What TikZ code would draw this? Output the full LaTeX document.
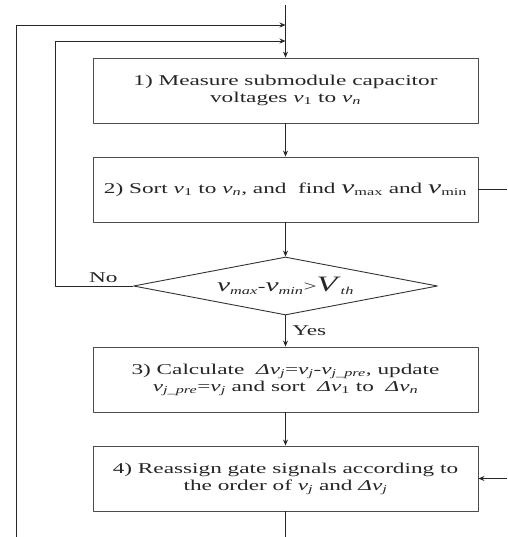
\documentclass[tikz,border=0pt]{standalone}
\usepackage{fontspec}
\setmainfont[FakeStretch=1.55]{Liberation Serif}
\usetikzlibrary{shapes.geometric,positioning,arrows.meta}
\newcommand{\vsub}[2]{\textit{#1}\textsubscript{#2}}
\newcommand{\bigv}[1]{{\fontsize{19}{19}\selectfont\textit{#1}}}

\begin{document}
\begin{tikzpicture}[x=1pt,y=-1pt,line width=0.9pt,line join=round,>={Stealth[length=6pt,width=5pt,inset=2pt]},
    font=\fontsize{15}{17}\selectfont,text=black!85,
    procbox/.style={draw=black!70,rectangle,minimum width=385pt,minimum height=65pt,align=center,inner sep=1pt},
    decbox/.style={draw=black!80,diamond,aspect=5.2,minimum width=304pt,minimum height=58pt,inner sep=0pt},
    flow/.style={->,draw=black!85}]
    \useasboundingbox (0,0) rectangle (507,537);
    % process boxes and test
    \node[procbox] (meas) at (285.5,90.5) {1) Measure submodule capacitor\\voltages \vsub{v}{1} to \vsub{v}{\textit{n}}};
    \node[procbox] (srt) at (285.5,189.5) {2) Sort \vsub{v}{1} to \vsub{v}{\textit{n}}, and\ \ find \bigv{v}\textsubscript{max} and \bigv{v}\textsubscript{min}};
    \node[decbox] (dec) at (285.5,286) {\bigv{v}\textsubscript{\textit{max}}-\bigv{v}\textsubscript{\textit{min}}>{\fontsize{22}{22}\selectfont\textit{V}}\textsubscript{\textit{th}}};
    \node[procbox] (calc) at (285.5,379.5) {3) Calculate\ \ \textit{Δ}\vsub{v}{\textit{j}}=\vsub{v}{\textit{j}}-\vsub{v}{\textit{j\_pre}}, update\\\vsub{v}{\textit{j\_pre}}=\vsub{v}{\textit{j}} and sort\ \ \textit{Δ}\vsub{v}{1} to\ \ \textit{Δ}\vsub{v}{\textit{n}}};
    \node[procbox] (reas) at (285.5,478.5) {4) Reassign gate signals according to\\the order of \vsub{v}{\textit{j}} and \textit{Δ}\vsub{v}{\textit{j}}};
    % free ends
    \coordinate (topin) at (285.5,5);
    \coordinate (j1) at (285.5,25);
    \coordinate (j2) at (285.5,41);
    \coordinate (outbot) at (16,537);
    \coordinate (mainbot) at (285.5,537);
    \coordinate (redge) at (507,0);
    % connectors
    \draw[flow] (topin) -- (meas.north);
    \draw[flow] (outbot) |- (j1);
    \draw[flow] (dec.west) -- node[above,pos=.38]{No} ++(-78,0) |- (j2);
    \draw[flow] (meas) -- (srt);
    \draw[flow] (srt) -- (dec);
    \draw[flow] (dec) -- node[right=3pt]{Yes} (calc);
    \draw[flow] (calc) -- (reas);
    \draw[draw=black!85] (reas.south) -- (mainbot);
    \draw[draw=black!85] (srt.east) -- (srt.east -| redge);
    \draw[flow] (reas.east -| redge) -- (reas.east);
\end{tikzpicture}
\end{document}
